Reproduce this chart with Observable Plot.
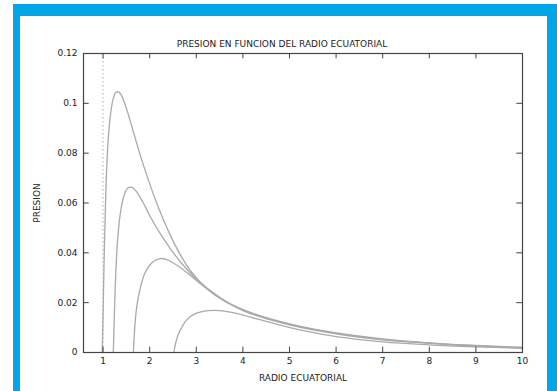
<!DOCTYPE html>
<html>
<head>
<meta charset="utf-8">
<script src="https://cdn.jsdelivr.net/npm/d3@7"></script>
<script src="https://cdn.jsdelivr.net/npm/@observablehq/plot@0.6"></script>
<style>
  html, body { margin: 0; padding: 0; background: #fff; }
  #outer { position: absolute; left: 13px; top: 4px; width: 544px; height: 387px; background: #00a6e6; }
  #inner { position: absolute; left: 20px; top: 16px; width: 527px; height: 375px; background: #fff; }
</style>
</head>
<body>
<div id="outer"></div>
<div id="inner"></div>
<script>
const title = "PRESION EN FUNCION DEL RADIO ECUATORIAL";
const xLabel = "RADIO ECUATORIAL";
const yLabel = "PRESION";
const xTicks = [1, 2, 3, 4, 5, 6, 7, 8, 9, 10];
const yTicks = [0, 0.02, 0.04, 0.06, 0.08, 0.1, 0.12];
const yTickLabels = ["0", "0.02", "0.04", "0.06", "0.08", "0.1", "0.12"];

const curve1X = [0.98, 1.0, 1.02, 1.05, 1.08, 1.12, 1.17, 1.22, 1.28, 1.34, 1.4, 1.5, 1.62, 1.8, 1.95, 2.1, 2.25, 2.45, 2.65, 2.9, 3.25, 3.6, 4.0, 4.5, 5.0, 5.5, 6.0, 7.0, 8.0, 9.0, 10.0];
const curve1Y = [0, 0.015, 0.035, 0.058, 0.075, 0.088, 0.097, 0.102, 0.1045, 0.1045, 0.103, 0.098, 0.0905, 0.079, 0.0705, 0.0625, 0.0553, 0.0468, 0.0395, 0.0322, 0.0252, 0.0207, 0.0172, 0.0140, 0.0115, 0.0095, 0.0079, 0.0055, 0.0039, 0.0028, 0.0021];

const curve2X = [1.22, 1.25, 1.28, 1.32, 1.38, 1.45, 1.53, 1.62, 1.72, 1.85, 2.0, 2.2, 2.45, 2.7, 3.0, 3.5, 4.0, 5.0, 6.0, 7.0, 8.0, 9.0, 10.0];
const curve2Y = [0, 0.02, 0.035, 0.047, 0.057, 0.063, 0.066, 0.0663, 0.0645, 0.0605, 0.055, 0.0485, 0.0415, 0.0355, 0.0295, 0.0222, 0.0171, 0.0113, 0.0077, 0.0053, 0.0038, 0.0027, 0.002];

const curve3X = [1.65, 1.68, 1.72, 1.8, 1.9, 2.0, 2.12, 2.23, 2.35, 2.5, 2.7, 2.9, 3.2, 3.6, 4.0, 5.0, 6.0, 7.0, 8.0, 9.0, 10.0];
const curve3Y = [0, 0.01, 0.018, 0.026, 0.032, 0.035, 0.037, 0.0377, 0.0374, 0.036, 0.0335, 0.0305, 0.026, 0.0208, 0.0168, 0.0111, 0.0075, 0.0051, 0.0037, 0.0026, 0.0019];

const curve4X = [2.52, 2.56, 2.62, 2.7, 2.8, 2.95, 3.1, 3.25, 3.4, 3.6, 3.9, 4.3, 4.8, 5.3, 6.0, 7.0, 8.0, 9.0, 10.0];
const curve4Y = [0, 0.004, 0.0075, 0.0105, 0.0132, 0.0153, 0.0163, 0.0168, 0.0169, 0.0166, 0.0155, 0.0135, 0.011, 0.0088, 0.0064, 0.0043, 0.0031, 0.0023, 0.0017];

const xMin = 0.58, xMax = 10, yMin = 0, yMax = 0.12;
const asymptoteX = [1];

const series = [[curve1X, curve1Y, "a"], [curve2X, curve2Y, "b"], [curve3X, curve3Y, "c"], [curve4X, curve4Y, "d"]];
const rows = series.flatMap(([xs, ys, k]) => xs.map((x, i) => ({x, y: ys[i], k})));

const ink = "#444";
const xt = (xMax - xMin) * 0.013;
const yt = (yMax - yMin) * 0.018;

const chart = Plot.plot({
  width: 527,
  height: 375,
  marginLeft: 63,
  marginRight: 25,
  marginTop: 37,
  marginBottom: 39,
  style: {background: "transparent", fontFamily: "DejaVu Sans, sans-serif", fontSize: "9px", color: "#222"},
  x: {domain: [xMin, xMax]},
  y: {domain: [yMin, yMax]},
  marks: [
    Plot.ruleX(asymptoteX, {x: d => d, stroke: "#aaa", strokeDasharray: "1.5,2.5", strokeWidth: 1}),
    Plot.line(rows, {x: "x", y: "y", z: "k", stroke: "#aaa", strokeWidth: 1.3, curve: "catmull-rom"}),
    Plot.ruleX(xTicks, {x: d => d, y1: yMin, y2: yMin + yt, stroke: ink}),
    Plot.ruleX(xTicks, {x: d => d, y1: yMax - yt, y2: yMax, stroke: ink}),
    Plot.ruleY(yTicks, {y: d => d, x1: xMin, x2: xMin + xt, stroke: ink}),
    Plot.ruleY(yTicks, {y: d => d, x1: xMax - xt, x2: xMax, stroke: ink}),
    Plot.frame({stroke: ink, strokeWidth: 1.2}),
    Plot.axisX(xTicks, {tickSize: 0, tickPadding: 5, label: xLabel, labelAnchor: "center", labelArrow: "none", labelOffset: 28, fontSize: 9}),
    Plot.axisY(yTicks, {tickSize: 0, tickPadding: 6, tickFormat: (d, i) => yTickLabels[i], label: yLabel, labelAnchor: "center", labelArrow: "none", labelOffset: 50, fontSize: 9}),
    Plot.text([title], {frameAnchor: "top", dy: -13, dx: -21, fontSize: 9, fill: "#222"})
  ]
});
chart.style.position = "absolute";
chart.style.left = "20px";
chart.style.top = "16px";
document.body.appendChild(chart);
</script>
</body>
</html>
